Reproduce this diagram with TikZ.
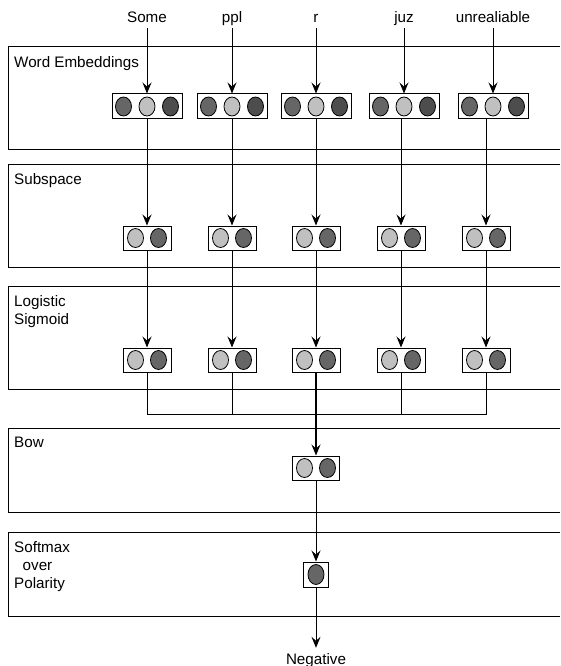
\documentclass[tikz,border=0pt]{standalone}
\usepackage{fontspec}
\setmainfont{Liberation Sans}
\usetikzlibrary{arrows.meta}
\definecolor{cA}{HTML}{666666}
\definecolor{cB}{HTML}{C0C0C0}
\definecolor{cC}{HTML}{4D4D4D}
\begin{document}
\begin{tikzpicture}[x=1pt,y=-1pt,
  font=\fontsize{15.2}{18}\selectfont,
  panel/.style={line width=1pt},
  toplbl/.style={anchor=base, inner sep=2pt, text depth=3pt},
  plbl/.style={anchor=north west, inner sep=0pt, align=left},
  vbox/.style={draw, line width=1pt, fill=white, inner sep=0pt, minimum height=25pt},
  wide/.style={vbox, minimum width=70pt},
  pair/.style={vbox, minimum width=48pt, minimum height=24pt},
  single/.style={vbox, minimum width=25pt},
  dot/.style={draw, line width=0.8pt},
  conn/.style={line width=1pt},
  arr/.style={conn, -{Stealth[length=11pt,width=9pt,inset=4pt]}}]
\useasboundingbox (0,0) rectangle (560,666);

% panels (open to the right)
\foreach \a/\b in {47/149,164/267,286/389,428/512,532/616}
  \draw[panel] (560,\a) -- (8,\a) -- (8,\b) -- (560,\b);

\node[plbl] (pWE) at (14,56.5) {Word Embeddings};
\node[plbl] (pSub) at (14,173.5) {Subspace};
\node[plbl] (pLog) at (14,295) {Logistic\\Sigmoid};
\node[plbl] (pBow) at (14,436.5) {Bow};
\node[plbl] (pSoft) at (14,541) {Softmax\\\hspace*{8.5pt}over\\Polarity};

% input words
\foreach \n/\x/\t in {1/147/Some,2/232/ppl,3/316/r,4/404/juz,5/493/unrealiable}
  \node[toplbl] (t\n) at (\x,23) {\t};

% word embedding vectors
\foreach \n/\x in {1/147,2/232,3/316,4/404,5/493}{
  \node[wide] (e\n) at (\x,106.5) {};
  \draw[dot,fill=cA] ([xshift=-23.5pt]e\n.center) ellipse [x radius=8, y radius=9.5];
  \draw[dot,fill=cB] (e\n.center) ellipse [x radius=8, y radius=9.5];
  \draw[dot,fill=cC] ([xshift=23.5pt]e\n.center) ellipse [x radius=8, y radius=9.5];
  \draw[arr] (t\n) -- (e\n);
}

% subspace and sigmoid vectors
\foreach \n/\x in {1/147,2/232,3/316,4/401,5/486}{
  \node[pair] (s\n) at (\x,238) {};
  \node[pair] (l\n) at (\x,360) {};
  \foreach \b in {s,l}{
    \draw[dot,fill=cB] ([xshift=-11.5pt]\b\n.center) ellipse [x radius=8, y radius=9.5];
    \draw[dot,fill=cA] ([xshift=11.5pt]\b\n.center) ellipse [x radius=8, y radius=9.5];
  }
  \draw[arr] (e\n.south -| s\n.north) -- (s\n.north);
  \draw[arr] (s\n) -- (l\n);
}

% bag of words
\node[pair, minimum width=47pt] (bow) at (316,468) {};
\draw[dot,fill=cB] ([xshift=-11.5pt]bow.center) ellipse [x radius=8, y radius=9.5];
\draw[dot,fill=cA] ([xshift=11.5pt]bow.center) ellipse [x radius=8, y radius=9.5];

% softmax
\node[single] (soft) at (316,574.5) {};
\draw[dot,fill=cA] (soft.center) ellipse [x radius=8, y radius=10];

\node[anchor=base, inner sep=0pt, text height=11pt, inner ysep=5pt] (neg) at (316,664) {Negative};

% merge
\coordinate (m) at (316,414);
\draw[conn] (l1.south) |- (l5 |- m) -- (l5.south);
\draw[conn] (l2.south) -- (l2 |- m);
\draw[conn] (l4.south) -- (l4 |- m);
\draw[arr, line width=1.8pt] (l3.south) -- (bow.north);
\draw[arr] (bow) -- (soft);
\draw[arr] (soft) -- (neg);
\end{tikzpicture}
\end{document}
